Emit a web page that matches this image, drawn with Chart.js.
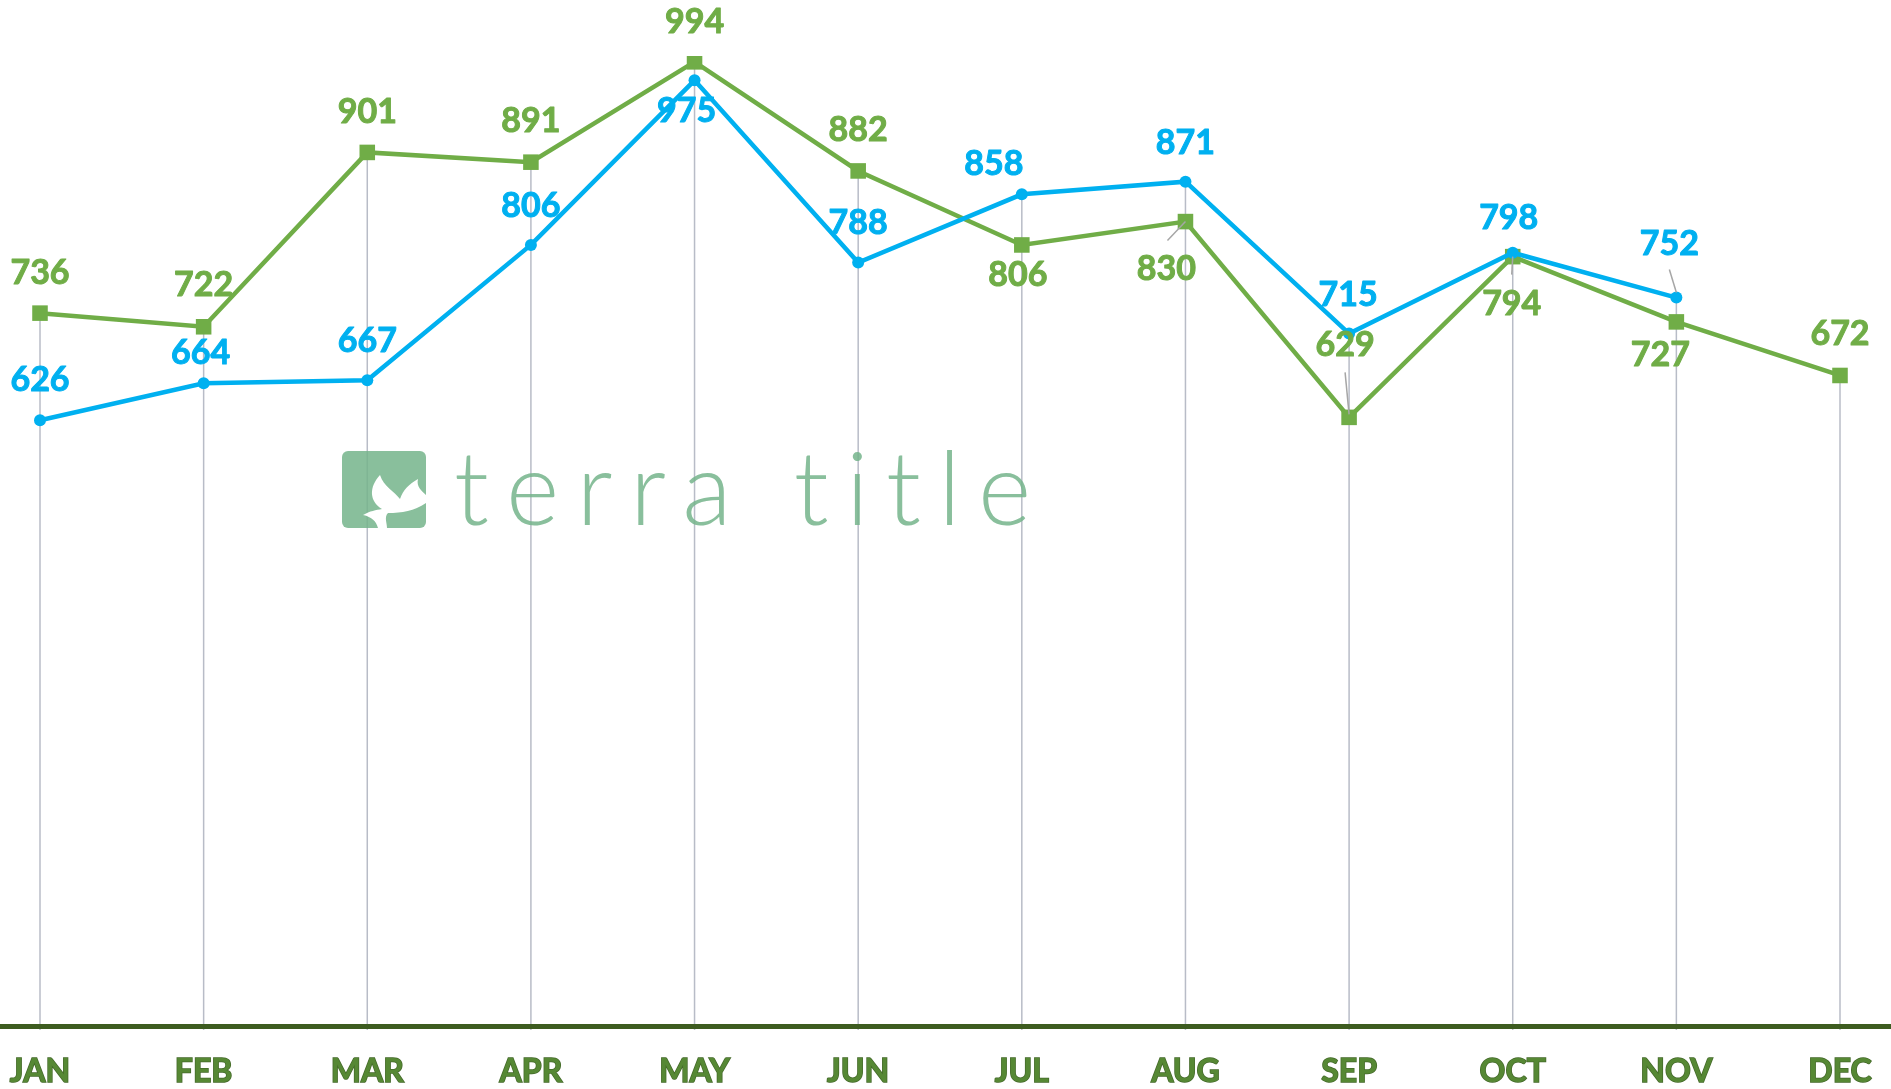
<!DOCTYPE html>
<html>
<head>
<meta charset="utf-8">
<title>terra title - monthly</title>
<script src="https://cdn.jsdelivr.net/npm/chart.js@4.4.1/dist/chart.umd.min.js"></script>
<style>
  html, body { margin: 0; padding: 0; background: #fff; }
  #wrap { width: 1891px; height: 1089px; position: relative; }
</style>
</head>
<body>
<div id="wrap"><canvas id="chart"></canvas></div>
<script>
// Data
const months = ['JAN', 'FEB', 'MAR', 'APR', 'MAY', 'JUN', 'JUL', 'AUG', 'SEP', 'OCT', 'NOV', 'DEC'];
const blueValues = [626, 664, 667, 806, 975, 788, 858, 871, 715, 798, 752, null];
const greenValues = [736, 722, 901, 891, 994, 882, 806, 830, 629, 794, 727, 672];

// Label placement relative to each point (px): [dx, dy]
const blueLabelOffsets = [[0, -40], [-3, -30], [0, -39], [0, -39], [-8, 31], [0, -39],
  [-28, -30], [0, -39], [-1, -39], [-4, -35], [-7, -54], [0, 0]];
const greenLabelOffsets = [[0, -40], [0, -42], [0, -40], [0, -41], [0, -40], [0, -41],
  [-4, 30], [-19, 47], [-4, -72], [-1, 47], [-16, 33], [0, -41]];
// Leader lines for displaced labels: index -> [x0, y0, x1, y1] relative to point
const blueLeaders = { 10: [-7, -28, 0, -5] };
const greenLeaders = { 7: [-18, 19, 0, 0], 8: [-4, -45, 0, -3], 9: [-1, 18, 0, 0] };

const BLUE = '#00b0f0';
const GREEN = '#70ad47';

// Vertical drop lines from the highest point of each month down to the axis
const dropLines = {
  id: 'dropLines',
  beforeDatasetsDraw(chart) {
    const { ctx, chartArea, scales } = chart;
    ctx.save();
    ctx.strokeStyle = '#b8bcc7';
    ctx.lineWidth = 1.5;
    months.forEach((m, i) => {
      const vals = chart.data.datasets.map(d => d.data[i]).filter(v => v != null);
      if (!vals.length) return;
      const x = scales.x.getPixelForValue(i);
      ctx.beginPath();
      ctx.moveTo(x, scales.y.getPixelForValue(Math.max(...vals)));
      ctx.lineTo(x, chartArea.bottom);
      ctx.stroke();
    });
    ctx.restore();
  }
};

// Watermark logo in the middle of the plot
const watermark = {
  id: 'watermark',
  beforeDatasetsDraw(chart) {
    const { ctx } = chart;
    ctx.save();
    ctx.fillStyle = 'rgba(116, 180, 139, 0.85)';

    // icon block
    const ix = 342, iy = 451, iw = 84, ih = 77;
    ctx.beginPath();
    ctx.roundRect(ix, iy, iw, ih, 6);
    ctx.fill();

    // white leaves
    ctx.save();
    ctx.beginPath();
    ctx.rect(ix, iy, iw, ih);
    ctx.clip();
    ctx.translate(ix, iy);
    ctx.fillStyle = '#fff';
    ctx.beginPath();
    ctx.moveTo(40, 58);
    ctx.bezierCurveTo(27, 50, 27, 36, 38, 24);
    ctx.bezierCurveTo(42, 36, 52, 40, 58, 48);
    ctx.bezierCurveTo(61, 39, 67, 33, 76, 28);
    ctx.bezierCurveTo(74, 36, 80, 40, 84, 44);
    ctx.lineTo(84, 52);
    ctx.bezierCurveTo(72, 60, 60, 62, 46, 62);
    ctx.bezierCurveTo(42, 66, 45, 72, 45, 77);
    ctx.lineTo(36, 77);
    ctx.bezierCurveTo(34, 70, 30, 66, 21, 64);
    ctx.bezierCurveTo(28, 60, 34, 59, 40, 58);
    ctx.closePath();
    ctx.fill();
    ctx.restore();

    // word mark
    const text = 'terra title';
    const left = 454, right = 1033;
    ctx.font = '300 102px Lato';
    ctx.textBaseline = 'alphabetic';
    ctx.textAlign = 'left';
    ctx.letterSpacing = '0px';
    const w = ctx.measureText(text).width;
    ctx.letterSpacing = ((right - left - w) / (text.length - 1)) + 'px';
    ctx.fillText(text, left, 525);
    ctx.restore();
  }
};

// Value labels next to each point
const dataLabels = {
  id: 'dataLabels',
  afterDatasetsDraw(chart) {
    const { ctx } = chart;
    ctx.save();
    ctx.font = 'bold 34px Lato';
    ctx.textAlign = 'center';
    ctx.textBaseline = 'middle';
    ctx.lineJoin = 'round';
    chart.data.datasets.forEach((ds, di) => {
      const meta = chart.getDatasetMeta(di);
      meta.data.forEach((pt, i) => {
        const v = ds.data[i];
        if (v == null) return;
        const lead = ds.leaders[i];
        if (lead) {
          ctx.strokeStyle = '#a6a6a6';
          ctx.lineWidth = 1.5;
          ctx.beginPath();
          ctx.moveTo(pt.x + lead[0], pt.y + lead[1]);
          ctx.lineTo(pt.x + lead[2], pt.y + lead[3]);
          ctx.stroke();
        }
        const [dx, dy] = ds.labelOffsets[i];
        ctx.fillStyle = ds.borderColor;
        ctx.strokeStyle = ds.borderColor;
        ctx.lineWidth = 1;
        ctx.fillText(String(v), pt.x + dx, pt.y + dy);
        ctx.strokeText(String(v), pt.x + dx, pt.y + dy);
      });
    });
    ctx.restore();
  }
};

// Heavy axis line across the whole width, sitting just above the zero line
const axisLine = {
  id: 'axisLine',
  afterDraw(chart) {
    const { ctx, chartArea } = chart;
    ctx.save();
    ctx.fillStyle = '#3d5c20';
    ctx.fillRect(0, chartArea.bottom - 6, chart.width, 5);
    ctx.restore();
  }
};

function draw() {
  new Chart(document.getElementById('chart'), {
    type: 'line',
    data: {
      labels: months,
      datasets: [
        {
          data: blueValues,
          borderColor: BLUE,
          backgroundColor: BLUE,
          borderWidth: 4.5,
          pointStyle: 'circle',
          pointRadius: 6,
          pointBorderWidth: 0,
          labelOffsets: blueLabelOffsets,
          leaders: blueLeaders
        },
        {
          data: greenValues,
          borderColor: GREEN,
          backgroundColor: GREEN,
          borderWidth: 4.5,
          pointStyle: 'rect',
          pointRadius: 11,
          pointBorderWidth: 0,
          labelOffsets: greenLabelOffsets,
          leaders: greenLeaders
        }
      ]
    },
    options: {
      responsive: true,
      maintainAspectRatio: false,
      animation: false,
      layout: { padding: { left: 40, right: 51, top: 56, bottom: 0 } },
      plugins: {
        legend: { display: false },
        tooltip: { enabled: false }
      },
      scales: {
        x: {
          grid: { display: false, drawTicks: false },
          border: { display: false },
          ticks: {
            color: '#568834',
            textStrokeColor: '#44692a',
            textStrokeWidth: 1.5,
            font: { family: 'Lato', weight: 'bold', size: 32 },
            padding: 22,
            maxRotation: 0,
            autoSkip: false
          },
          afterFit(scale) {
            scale.height = 59;
            scale.paddingLeft = 0;
            scale.paddingRight = 0;
          }
        },
        y: {
          display: false,
          min: 0,
          max: 1000
        }
      }
    },
    plugins: [dropLines, watermark, dataLabels, axisLine]
  });
}

Promise.all([
  document.fonts.load('bold 34px Lato'),
  document.fonts.load('300 102px Lato')
]).then(draw, draw);
</script>
</body>
</html>
